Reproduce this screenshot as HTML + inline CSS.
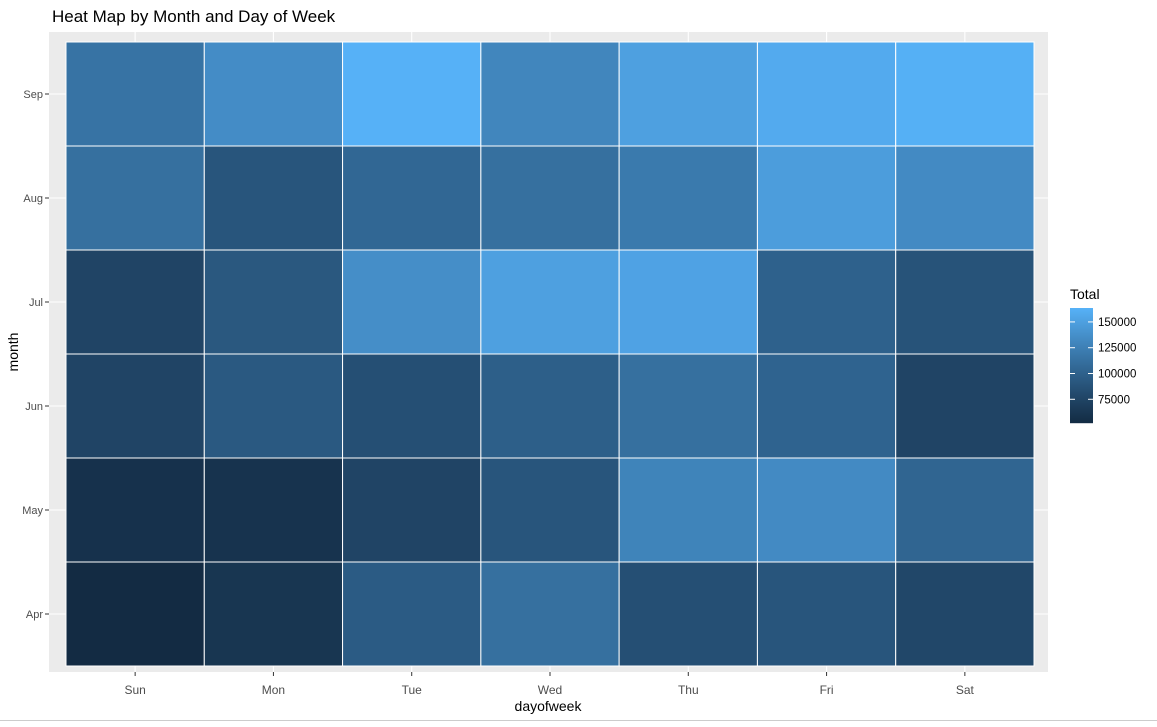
<!DOCTYPE html>
<html><head><meta charset="utf-8"><style>
body{margin:0;background:#fff;width:1157px;height:722px;overflow:hidden;font-family:"Liberation Sans",Arial,sans-serif}
</style></head><body>
<svg width="1157" height="722" xmlns="http://www.w3.org/2000/svg">
<text x="52" y="22" font-size="17" fill="#000">Heat Map by Month and Day of Week</text>
<rect x="49" y="32" width="999" height="640" fill="#EBEBEB"/>
<g id="grid"></g>
<g id="tiles"></g>
<g id="xticks"></g>
<g id="yticks"></g>
<text x="548" y="711" font-size="14" text-anchor="middle" fill="#000">dayofweek</text>
<text transform="translate(18,352) rotate(-90)" font-size="14" text-anchor="middle" fill="#000">month</text>
<g id="legend">
<text x="1070" y="299" font-size="14" fill="#000">Total</text>
</g>
<line x1="0" y1="720.5" x2="1157" y2="720.5" stroke="#ccc"/>
</svg>
<script>
const days=["Sun","Mon","Tue","Wed","Thu","Fri","Sat"];
const months=["Apr","May","Jun","Jul","Aug","Sep"];
const valApr=[52000,62000,95000,112000,85000,90000,78000];
const valMay=[58000,60000,75000,90000,128000,133000,103000];
const valJun=[75000,93000,85000,98000,112000,102000,75000];
const valJul=[75000,92000,136000,150000,152000,100000,88000];
const valAug=[112000,90000,105000,112000,120000,148000,133000];
const valSep=[115000,135000,163000,130000,150000,158000,162000];
const legendTicks=[75000,100000,125000,150000];
const rows=[valApr,valMay,valJun,valJul,valAug,valSep];
const NS="http://www.w3.org/2000/svg";
function mk(t,a,p){const e=document.createElementNS(NS,t);for(const k in a)e.setAttribute(k,a[k]);p.appendChild(e);return e;}
const all=rows.flat();const vmin=Math.min(...all),vmax=Math.max(...all);
// axes
const x0=66,cw=(1034-66)/days.length;const yBot=666,rh=(666-42)/months.length;
const xc=i=>x0+cw*(i+0.5);const yc=j=>yBot-rh*(j+0.5);
// Lab color
function toLin(c){c/=255;return c<=0.04045?c/12.92:Math.pow((c+0.055)/1.055,2.4);}
function fromLin(c){c=c<=0.0031308?12.92*c:1.055*Math.pow(c,1/2.4)-0.055;return Math.round(Math.max(0,Math.min(1,c))*255);}
const W=[0.95047,1,1.08883];
function f(t){return t>0.008856?Math.cbrt(t):7.787*t+16/116;}
function fi(t){return t>0.206893?t*t*t:(t-16/116)/7.787;}
function rgb2lab(r,g,b){r=toLin(r);g=toLin(g);b=toLin(b);const X=(0.4124*r+0.3576*g+0.1805*b)/W[0],Y=(0.2126*r+0.7152*g+0.0722*b),Z=(0.0193*r+0.1192*g+0.9505*b)/W[2];return[116*f(Y)-16,500*(f(X)-f(Y)),200*(f(Y)-f(Z))];}
function lab2rgb(L,a,b){const fy=(L+16)/116,fx=fy+a/500,fz=fy-b/200;const X=fi(fx)*W[0],Y=fi(fy),Z=fi(fz)*W[2];const r=3.2406*X-1.5372*Y-0.4986*Z,g=-0.9689*X+1.8758*Y+0.0415*Z,bb=0.0557*X-0.2040*Y+1.0570*Z;return`rgb(${fromLin(r)},${fromLin(g)},${fromLin(bb)})`;}
const lo=rgb2lab(0x13,0x2B,0x43),hi=rgb2lab(0x56,0xB1,0xF7);
function col(v){const t=Math.max(0,Math.min(1,(v-vmin)/(vmax-vmin)));return lab2rgb(lo[0]+(hi[0]-lo[0])*t,lo[1]+(hi[1]-lo[1])*t,lo[2]+(hi[2]-lo[2])*t);}
const grid=document.getElementById('grid');
days.forEach((d,i)=>{const l=mk('line',{x1:xc(i),x2:xc(i),y1:32,y2:672,stroke:'#fff','stroke-width':1.1},grid);

});
months.forEach((m,j)=>{const l=mk('line',{x1:49,x2:1048,y1:yc(j),y2:yc(j),stroke:'#fff','stroke-width':1.1},grid);

});
const tiles=document.getElementById('tiles');
rows.forEach((r,j)=>r.forEach((v,i)=>{const e=mk('rect',{x:x0+cw*i,y:yBot-rh*(j+1),width:cw,height:rh,fill:col(v),stroke:'#fff','stroke-width':1},tiles);

}));
const xt=document.getElementById('xticks');
days.forEach((d,i)=>{mk('line',{x1:xc(i),x2:xc(i),y1:672,y2:676,stroke:'#333'},xt);const t=mk('text',{x:xc(i),y:694,'font-size':12,'text-anchor':'middle',fill:'#4D4D4D'},xt);t.textContent=d;

});
const yt=document.getElementById('yticks');
months.forEach((m,j)=>{mk('line',{x1:45,x2:49,y1:yc(j),y2:yc(j),stroke:'#333'},yt);const t=mk('text',{x:43,y:yc(j)+4,'font-size':11,'text-anchor':'end',fill:'#4D4D4D'},yt);t.textContent=m;

});
// legend
const lg=document.getElementById('legend');
const lTop=308,lBot=423,lmin=52000,lmax=163500;const ly=v=>lBot-(v-lmin)/(lmax-lmin)*(lBot-lTop);
for(let y=lTop;y<lBot;y++){const v=lmin+(lBot-y-0.5)/(lBot-lTop)*(lmax-lmin);mk('rect',{x:1070,y:y,width:23,height:1.2,fill:col(v)},lg);}
legendTicks.forEach(v=>{const y=ly(v);mk('line',{x1:1070,x2:1075,y1:y,y2:y,stroke:'#fff'},lg);mk('line',{x1:1088,x2:1093,y1:y,y2:y,stroke:'#fff'},lg);const t=mk('text',{x:1098,y:y+4,'font-size':11.5,fill:'#000'},lg);t.textContent=v;

});
</script>
</body></html>
